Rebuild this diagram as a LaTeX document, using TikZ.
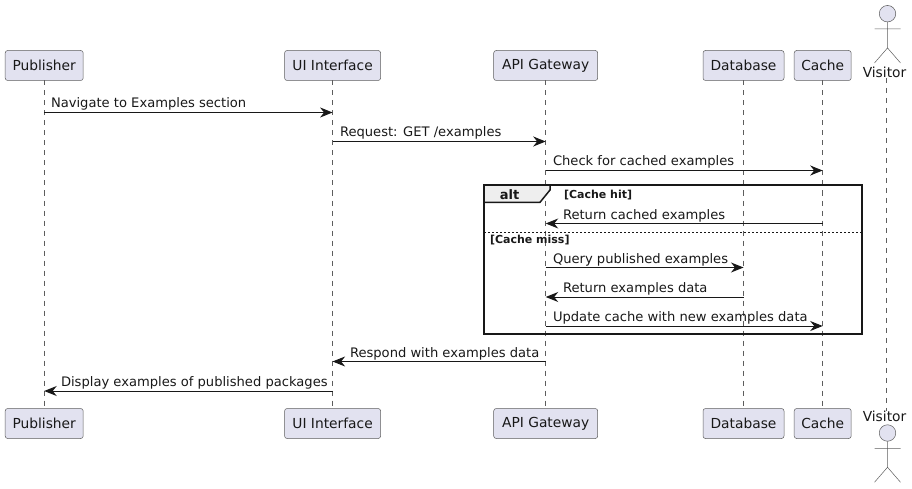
\documentclass[tikz,border=0pt]{standalone}
\usepackage{fontspec}
\setmainfont{DejaVu Sans}
\usetikzlibrary{arrows.meta}
\definecolor{partfill}{RGB}{226,226,240}
\definecolor{partline}{RGB}{24,24,24}
\definecolor{tabfill}{RGB}{238,238,238}
\begin{document}
\begin{tikzpicture}[x=1pt,y=-1pt]
	\tikzstyle{every node} = [inner sep=0pt, outer sep=0pt, text=partline]
	\tikzstyle{part} = [rectangle, fill=partfill, draw=partline!70, line width=0.5pt, rounded corners=2.5pt, minimum height=30pt, font=\fontsize{13.8}{16}\selectfont]
	\tikzstyle{life} = [draw=partline!70, line width=0.5pt, dash pattern=on 5pt off 5pt]
	\tikzstyle{msg} = [draw=partline, line width=1pt, -{Stealth[length=12.5pt,width=10pt,inset=4pt]}]
	\tikzstyle{lbl} = [anchor=base west, font=\fontsize{13.1}{15}\selectfont]
	\tikzstyle{grp} = [anchor=base west, font=\fontsize{11}{12}\bfseries\selectfont]
	\tikzstyle{actor} = [draw=partline!70, line width=0.5pt]
	\useasboundingbox (0,0) rectangle (912,489);
	
	%Participants, top row
	\node[part, minimum width=78pt] (pub_top) at (44.2,65.5) {Publisher};
	\node[part, minimum width=96pt] (ui_top) at (332.6,65.5) {UI Interface};
	\node[part, minimum width=104pt] (api_top) at (545.7,65.5) {API Gateway};
	\node[part, minimum width=81pt] (db_top) at (743.5,65.5) {Database};
	\node[part, minimum width=57pt] (cache_top) at (822.7,65.5) {Cache};
	\node[font=\fontsize{13.8}{16}\selectfont] (vis_top) at (884.5,72.5) {Visitor};
	
	%Participants, bottom row
	\node[part, minimum width=78pt] (pub_bot) at (44.2,423.5) {Publisher};
	\node[part, minimum width=96pt] (ui_bot) at (332.6,423.5) {UI Interface};
	\node[part, minimum width=104pt] (api_bot) at (545.7,423.5) {API Gateway};
	\node[part, minimum width=81pt] (db_bot) at (743.5,423.5) {Database};
	\node[part, minimum width=57pt] (cache_bot) at (822.7,423.5) {Cache};
	\node[font=\fontsize{13.8}{16}\selectfont] (vis_bot) at (884.5,416.5) {Visitor};
	
	%Lifelines
	\draw[life] (pub_top.south) -- (pub_bot.north);
	\draw[life] (ui_top.south) -- (ui_bot.north);
	\draw[life] (api_top.south) -- (api_bot.north);
	\draw[life] (db_top.south) -- (db_bot.north);
	\draw[life] (cache_top.south) -- (cache_bot.north);
	\draw[life] ([xshift=1.8pt]vis_top.south) -- ([xshift=1.8pt]vis_bot.north);
	
	%Actor figures
	\node[circle, fill=partfill, draw=partline!70, line width=0.5pt, minimum size=16.5pt] (head_top) at (887.5,13.7) {};
	\draw[actor] (head_top.south) -- ++(0,26) coordinate (hip_top) ++(-13,-19) -- ++(26,0)
	(hip_top) -- ++(-13,15) (hip_top) -- ++(13,15);
	\node[circle, fill=partfill, draw=partline!70, line width=0.5pt, minimum size=16.5pt] (head_bot) at (887.5,433) {};
	\draw[actor] (head_bot.south) -- ++(0,26) coordinate (hip_bot) ++(-13,-19) -- ++(26,0)
	(hip_bot) -- ++(-13,15) (hip_bot) -- ++(13,15);
	
	%Alt frame
	\node[rectangle, draw=partline, line width=2pt, minimum width=377.5pt, minimum height=149pt] (alt_frame) at (673,259.7) {};
	\fill[tabfill] (485,186.2) -- (550,186.2) -- (550,190) -- (540,202.3) -- (485,202.3) -- cycle;
	\draw[draw=partline, line width=1.5pt] (484,202.3) -- (540,202.3) -- (550,190) -- (550,185.5);
	\node[anchor=base, font=\fontsize{13}{15}\bfseries\selectfont] (alt_tag) at (509.5,199) {alt};
	\node[grp] (hit_lbl) at (564,198) {[Cache hit]};
	\node[grp] (miss_lbl) at (490,243) {[Cache miss]};
	\draw[draw=partline, line width=0.6pt, dash pattern=on 2pt off 2pt] (alt_frame.west |- 0,232) -- (alt_frame.east |- 0,232);
	
	%Messages
	\node[lbl] (m1) at (51,107.5) {Navigate to Examples section};
	\node[lbl] (m2) at (340,136.5) {Request: GET /examples};
	\node[lbl] (m3) at (553,165.5) {Check for cached examples};
	\node[lbl] (m4) at (563,219.5) {Return cached examples};
	\node[lbl] (m5) at (553,263.5) {Query published examples};
	\node[lbl] (m6) at (563,292.5) {Return examples data};
	\node[lbl] (m7) at (553,321.5) {Update cache with new examples data};
	\node[lbl] (m8) at (350,357.5) {Respond with examples data};
	\node[lbl] (m9) at (61,386.5) {Display examples of published packages};
	\draw
	(pub_top |- 0,112.5) edge[msg] (ui_top |- 0,112.5)
	(ui_top |- 0,141.5) edge[msg] (api_top |- 0,141.5)
	(api_top |- 0,170.5) edge[msg] (cache_top |- 0,170.5)
	(cache_top |- 0,223.5) edge[msg] (api_top |- 0,223.5)
	(api_top |- 0,267.5) edge[msg] (db_top |- 0,267.5)
	(db_top |- 0,297) edge[msg] (api_top |- 0,297)
	(api_top |- 0,326) edge[msg] (cache_top |- 0,326)
	(api_top |- 0,361.5) edge[msg] (ui_top |- 0,361.5)
	(ui_top |- 0,391) edge[msg] (pub_top |- 0,391)
	;
\end{tikzpicture}
\end{document}
